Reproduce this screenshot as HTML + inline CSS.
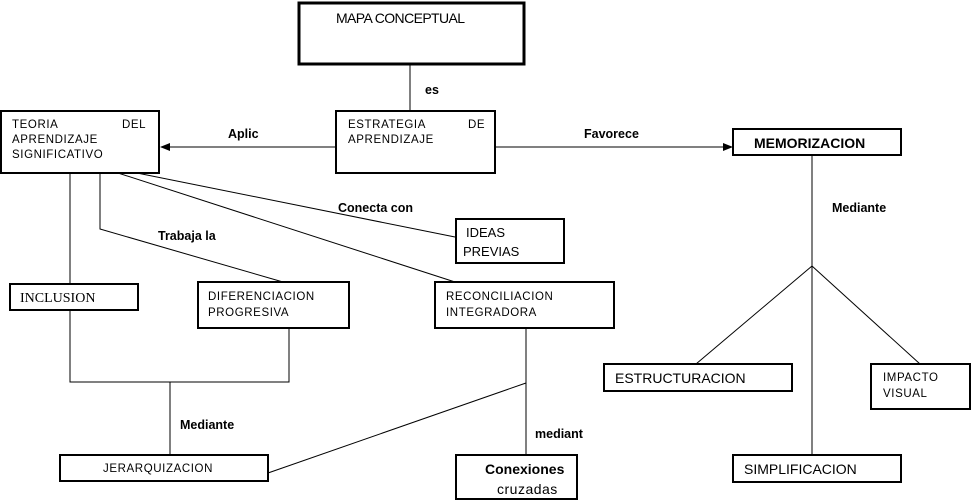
<!DOCTYPE html>
<html><head><meta charset="utf-8"><style>
body{margin:0;background:#fff}
svg{display:block}
text{font-family:"Liberation Sans",sans-serif;fill:#000}
.s{font-size:11.5px;letter-spacing:0.6px}
.b{font-weight:bold;font-size:12.5px}
</style></head><body>
<svg width="972" height="502" viewBox="0 0 972 502" xmlns="http://www.w3.org/2000/svg">
<defs><marker id="ar" markerWidth="10" markerHeight="8" refX="9" refY="4" orient="auto" markerUnits="userSpaceOnUse"><path d="M0,0 L10,4 L0,8z" fill="#000"/></marker></defs>
<g stroke="#000" fill="none" stroke-width="1">
<line x1="410" y1="64" x2="410" y2="111"/>
<line x1="336" y1="147" x2="161" y2="147" marker-end="url(#ar)"/>
<line x1="495" y1="147" x2="732" y2="147" marker-end="url(#ar)"/>
<line x1="812" y1="155" x2="812" y2="455"/>
<line x1="812" y1="266" x2="696" y2="364"/>
<line x1="812" y1="266" x2="920" y2="364"/>
<line x1="137" y1="173" x2="455" y2="237"/>
<line x1="118" y1="173" x2="455" y2="282"/>
<polyline points="100,173 100,229 283,282"/>
<line x1="70" y1="173" x2="70" y2="284"/>
<polyline points="70,310 70,382 289,382 289,328"/>
<line x1="170" y1="382" x2="170" y2="455"/>
<line x1="526" y1="328" x2="526" y2="455"/>
<line x1="526" y1="383" x2="268" y2="473"/>
</g>
<g stroke="#000" fill="#fff" stroke-width="2">
<rect x="299" y="3" width="225" height="61" stroke-width="3"/>
<rect x="336" y="111" width="159" height="62"/>
<rect x="1" y="111" width="158" height="62"/>
<rect x="733" y="129" width="168" height="26"/>
<rect x="456" y="219" width="108" height="44"/>
<rect x="10" y="284" width="128" height="26"/>
<rect x="198" y="282" width="151" height="46"/>
<rect x="435" y="282" width="179" height="46"/>
<rect x="60" y="455" width="208" height="26"/>
<rect x="456" y="455" width="121" height="44"/>
<rect x="604" y="364" width="188" height="27"/>
<rect x="871" y="364" width="99" height="45"/>
<rect x="733" y="455" width="168" height="27"/>
</g>
<text x="336" y="23" style="font-size:14px;letter-spacing:-0.6px">MAPA CONCEPTUAL</text>
<text x="425" y="94" class="b">es</text>
<text x="228" y="138" class="b">Aplic</text>
<text x="584" y="138" class="b">Favorece</text>
<text class="s" x="12" y="128">TEORIA</text><text class="s" x="122" y="128">DEL</text>
<text class="s" x="12" y="143">APRENDIZAJE</text>
<text class="s" x="12" y="158">SIGNIFICATIVO</text>
<text class="s" x="348" y="128">ESTRATEGIA</text><text class="s" x="468" y="128">DE</text>
<text class="s" x="348" y="143">APRENDIZAJE</text>
<text x="754" y="148" style="font-weight:bold;font-size:14px">MEMORIZACION</text>
<text x="832" y="212" class="b">Mediante</text>
<text x="338" y="212" class="b">Conecta con</text>
<text x="158" y="240" class="b">Trabaja la</text>
<text x="466" y="237" style="font-size:13px">IDEAS</text>
<text x="463" y="256" style="font-size:13px">PREVIAS</text>
<text x="20" y="302" style="font-family:'Liberation Serif',serif;font-size:14px">INCLUSION</text>
<text class="s" x="208" y="300">DIFERENCIACION</text>
<text class="s" x="208" y="316">PROGRESIVA</text>
<text class="s" x="446" y="300">RECONCILIACION</text>
<text class="s" x="446" y="316">INTEGRADORA</text>
<text x="180" y="429" class="b">Mediante</text>
<text x="535" y="438" class="b">mediant</text>
<text class="s" x="103" y="472">JERARQUIZACION</text>
<text x="485" y="474" style="font-weight:bold;font-size:14px">Conexiones</text>
<text x="497" y="494" style="font-size:14px;letter-spacing:0.5px">cruzadas</text>
<text x="615" y="383" style="font-size:14px">ESTRUCTURACION</text>
<text class="s" x="883" y="381">IMPACTO</text>
<text class="s" x="883" y="397">VISUAL</text>
<text x="744" y="474" style="font-size:14px">SIMPLIFICACION</text>
</svg>
</body></html>
